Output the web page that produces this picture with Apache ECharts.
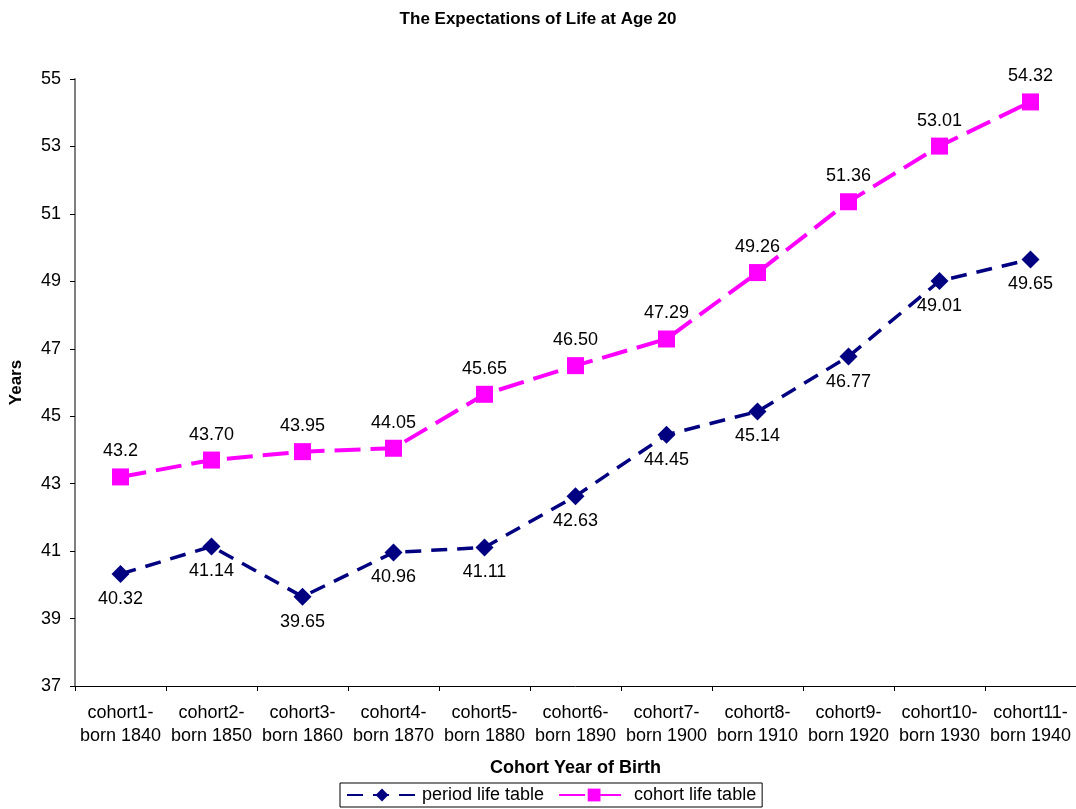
<!DOCTYPE html>
<html>
<head>
<meta charset="utf-8">
<script src="https://cdn.jsdelivr.net/npm/echarts@6/dist/echarts.min.js"></script>
<style>
  html, body { margin: 0; padding: 0; background: #fff; }
  #chart { width: 1076px; height: 809px; }
</style>
</head>
<body>
<div id="chart"></div>
<script>
// categories along the x axis
var cohorts = [
  "cohort1-\nborn 1840", "cohort2-\nborn 1850", "cohort3-\nborn 1860", "cohort4-\nborn 1870",
  "cohort5-\nborn 1880", "cohort6-\nborn 1890", "cohort7-\nborn 1900", "cohort8-\nborn 1910",
  "cohort9-\nborn 1920", "cohort10-\nborn 1930", "cohort11-\nborn 1940"
];
var periodValues = [40.32, 41.14, 39.65, 40.96, 41.11, 42.63, 44.45, 45.14, 46.77, 49.01, 49.65];
var cohortValues = [43.2, 43.70, 43.95, 44.05, 45.65, 46.50, 47.29, 49.26, 51.36, 53.01, 54.32];
// labels as printed on the chart
var periodLabels = ["40.32", "41.14", "39.65", "40.96", "41.11", "42.63", "44.45", "45.14", "46.77", "49.01", "49.65"];
var cohortLabels = ["43.2", "43.70", "43.95", "44.05", "45.65", "46.50", "47.29", "49.26", "51.36", "53.01", "54.32"];

var font = "Liberation Sans, Arial, sans-serif";
var myecharts = echarts.init(document.getElementById("chart"));
myecharts.setOption({
  animation: false,
  backgroundColor: "#fff",
  textStyle: { fontFamily: font },
  title: {
    text: "The Expectations of Life at Age 20",
    left: "center",
    top: 6,
    textStyle: { fontSize: 17, fontWeight: "bold", color: "#000", fontFamily: font }
  },
  grid: { left: 73, right: 0, top: 79, bottom: 123 },
  legend: {
    bottom: 2,
    left: 340,
    itemWidth: 70,
    itemHeight: 16,
    itemGap: 14,
    borderColor: "#000",
    borderWidth: 1,
    padding: [3, 6],
    borderRadius: 0,
    textStyle: { fontSize: 18, color: "#000", fontFamily: font },
    data: ["period life table", "cohort life table"]
  },
  xAxis: {
    type: "category",
    data: cohorts,
    boundaryGap: true,
    name: "Cohort Year of Birth",
    nameLocation: "middle",
    nameGap: 73,
    nameTextStyle: { fontSize: 18, fontWeight: "bold", color: "#000", fontFamily: font },
    axisLine: { lineStyle: { color: "#000", width: 1 } },
    axisTick: { show: true, length: 5, lineStyle: { color: "#000" } },
    axisLabel: { fontSize: 18, color: "#000", margin: 16, lineHeight: 23, fontFamily: font, interval: 0 },
    splitLine: { show: false }
  },
  yAxis: {
    type: "value",
    min: 37,
    max: 55,
    interval: 2,
    name: "Years",
    nameLocation: "middle",
    nameGap: 50,
    nameTextStyle: { fontSize: 17, fontWeight: "bold", color: "#000", fontFamily: font },
    axisLine: { show: true, lineStyle: { color: "#808080", width: 2 } },
    axisTick: { show: true, length: 5, lineStyle: { color: "#000" } },
    axisLabel: { fontSize: 18, color: "#000", margin: 14, fontFamily: font },
    splitLine: { show: false }
  },
  series: [
    {
      name: "period life table",
      type: "line",
      data: periodValues,
      symbol: "diamond",
      symbolSize: 18,
      itemStyle: { color: "#000080" },
      lineStyle: { color: "#000080", width: 3.5, type: [16, 10] },
      label: {
        show: true,
        position: "bottom",
        distance: 7,
        fontSize: 18,
        color: "#000",
        fontFamily: font,
        formatter: function (p) { return periodLabels[p.dataIndex]; }
      },
      z: 3
    },
    {
      name: "cohort life table",
      type: "line",
      data: cohortValues,
      symbol: "rect",
      symbolSize: 17,
      itemStyle: { color: "#FF00FF" },
      lineStyle: { color: "#FF00FF", width: 4, type: [26, 10] },
      label: {
        show: true,
        position: "top",
        distance: 8,
        fontSize: 18,
        color: "#000",
        fontFamily: font,
        formatter: function (p) { return cohortLabels[p.dataIndex]; }
      },
      z: 3
    }
  ]
});
</script>
</body>
</html>
